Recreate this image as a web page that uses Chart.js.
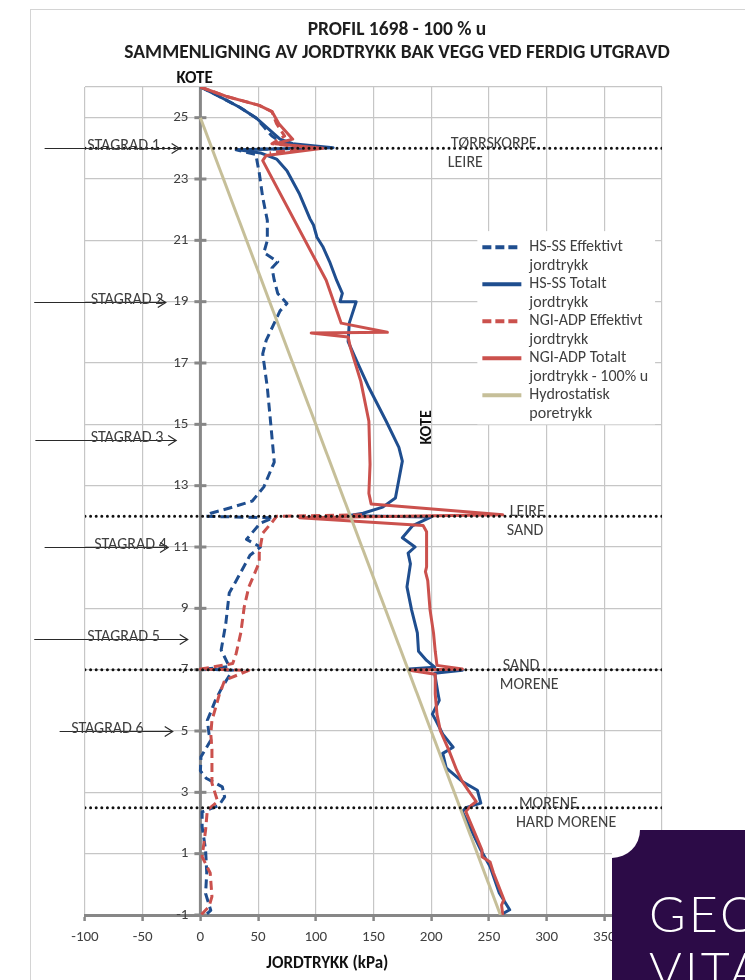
<!DOCTYPE html>
<html>
<head>
<meta charset="utf-8">
<script src="https://cdn.jsdelivr.net/npm/chart.js@4.4.1/dist/chart.umd.min.js"></script>
<style>
  html, body { margin: 0; padding: 0; background: #fff; }
  #wrap { position: relative; width: 745px; height: 980px; overflow: hidden; }
  #frame { position: absolute; left: 30px; top: 9px; width: 760px; height: 1000px;
           border-left: 1.5px solid #d4d4d4; border-top: 1.5px solid #d4d4d4; }
  canvas { position: absolute; left: 0; top: 0; }
  #logo { position: absolute; left: 612px; top: 830px; width: 133px; height: 150px;
          background: #2c0b47; overflow: hidden; }
  #logo .notch { position: absolute; left: -28px; top: -28px; width: 56px; height: 56px;
                 border-radius: 50%; background: #fff; }
  #logo .w { position: absolute; left: 37px; color: #fff; font: 300 50px Lato, sans-serif;
             line-height: 50px; white-space: nowrap; letter-spacing: 3px; }
</style>
</head>
<body>
<div id="wrap">
  <div id="frame"></div>
  <canvas id="c" width="745" height="980"></canvas>
  <div id="logo"><div class="notch"></div><div class="w" style="top:58px">GEO</div><div class="w" style="top:114px">VITA</div></div>
</div>
<script>
// ---- Jordtrykk (kPa) against kote (m) ----
const hsEffTrykk = [0, 16, 34, 48, 55, 62, 70, 100, 31, 48, 51, 54, 58, 58, 55, 67, 62, 64, 67, 75, 69, 57, 54, 58, 61, 64, 55, 45, 28, 9, 5, 63, 52, 40, 52, 43, 31, 25, 22, 18, 25, 4, 28, 19, 13, 9, 6, 7.5, 9, 0.5, 0, 5, 19, 21, 16, 1.5, 1.5, 4.5, 5.5, 4.5, 9, 4.5];
const hsEffKote  = [26, 25.7, 25.34, 25.0, 24.7, 24.4, 24.2, 24.02, 23.95, 23.8, 23.2, 22.4, 21.65, 21.0, 20.6, 20.3, 20.1, 19.7, 19.27, 18.94, 18.7, 17.74, 17.3, 16.2, 15.0, 13.77, 12.96, 12.5, 12.3, 12.1, 12.0, 11.95, 11.78, 11.25, 11.0, 10.73, 9.9, 9.5, 8.5, 7.64, 7.1, 7.02, 6.98, 6.44, 6.0, 5.62, 5.35, 4.9, 4.7, 4.16, 3.7, 3.46, 3.18, 2.85, 2.57, 2.36, 1.88, 1.12, 0.37, -0.3, -0.85, -1];

const hsTotTrykk = [0, 16, 34, 48, 57, 69, 80, 115, 33, 52, 66, 75, 86, 95, 98, 101, 106, 112, 118, 123, 121, 135, 129, 128, 135, 146, 161, 172, 175, 172, 169, 158, 141, 128, 200, 184, 175, 186, 180, 182, 179, 183, 188, 189, 196, 203, 181, 227, 203, 206, 207, 201, 204, 210, 219, 210, 213, 227, 240, 243, 230, 227, 243, 251, 259, 268, 260];
const hsTotKote  = [26, 25.7, 25.34, 25.0, 24.7, 24.3, 24.15, 24.02, 23.95, 23.85, 23.65, 23.27, 22.5, 21.7, 21.5, 21.1, 20.8, 20.3, 19.7, 19.27, 19.0, 19.0, 18.3, 17.7, 17.1, 16.2, 15.1, 14.25, 13.8, 13.2, 12.6, 12.3, 12.1, 12.02, 11.98, 11.7, 11.3, 11.0, 10.8, 10.45, 9.7, 8.95, 8.2, 7.6, 7.3, 7.08, 7.02, 6.98, 6.88, 6.2, 6.0, 5.55, 5.35, 4.9, 4.47, 4.27, 3.8, 3.35, 3.07, 2.65, 2.5, 2.37, 1.12, 0.58, -0.28, -0.83, -1];

const ngiEffTrykk = [0, 22, 51, 62, 66, 73, 62, 95, 60, null, 140, 66, 63, 54, 51, 51, 47, 42, 38, 35, 31, 28, 0, 42, 21, 16.5, 13.5, 10, 9, 10, 10, 10, 15, 6, 4.5, 1.5, 8.5, 10, 7.5, 0.5];
const ngiEffKote  = [26, 25.7, 25.4, 25.2, 24.8, 24.4, 24.15, 24.02, 23.85, null, 12.05, 12.0, 11.85, 11.45, 10.8, 10.5, 10.14, 9.7, 9.05, 8.2, 7.53, 7.2, 7.02, 6.98, 6.65, 6.2, 5.8, 5.35, 4.9, 4.4, 4.05, 3.3, 2.7, 2.42, 1.77, 0.9, 0.37, -0.4, -0.72, -1];

const ngiTotTrykk = [0, 22, 51, 62, 68, 80, 65, 106, 57, 54, 109, 122, 162, 96, 128, 130, 139, 146, 147, 146, 148, 262, 86, 193, 196, 196, 195, 197, 199, 202, 203.5, 205, 227, 181, 203.5, 203.5, 205, 208, 215, 222, 227, 232, 239, 234, 230, 244, 244, 251, 254, 263, 261, 262];
const ngiTotKote  = [26, 25.7, 25.4, 25.2, 24.8, 24.3, 24.15, 24.0, 23.77, 23.6, 19.7, 18.3, 18.0, 17.98, 17.85, 17.5, 16.4, 15.1, 13.7, 12.75, 12.4, 12.05, 11.95, 11.7, 11.5, 10.35, 10.2, 9.9, 8.95, 8.2, 7.6, 7.14, 7.02, 6.98, 6.85, 6.2, 5.55, 5.0, 4.4, 3.73, 3.35, 3.07, 2.7, 2.55, 2.37, 1.12, 0.9, 0.73, 0.37, -0.5, -0.68, -1];

const hydroTrykk = [0, 260];
const hydroKote  = [25, -1];

// Axis ranges and tick labels
const X_MIN = -100, X_MAX = 400, X_STEP = 50;
const Y_MIN = -1, Y_MAX = 26;
const yTickValues = [-1, 1, 3, 5, 7, 9, 11, 13, 15, 17, 19, 21, 23, 25];

// Layer boundaries (kote) with soil names above / below
const layerKote  = [24, 12, 7, 2.5];
const layerAbove = ['TØRRSKORPE', 'LEIRE', 'SAND', 'MORENE'];
const layerBelow = ['LEIRE', 'SAND', 'MORENE', 'HARD MORENE'];
const layerLabelAt = [217, 268, 262, 276];

// Anchor rows (stagrad)
const stagradNames = ['STAGRAD 1', 'STAGRAD 2', 'STAGRAD 3', 'STAGRAD 4', 'STAGRAD 5', 'STAGRAD 6'];
const stagradKote  = [24, 19, 14.5, 11, 8, 5];
const stagradFrom  = [-135, -144, -143, -135, -144, -122];
const stagradTo    = [-18, -30, -21, -28, -11, -24];
const stagradText  = [-98, -95, -95, -92, -98, -112];

const seriesNames = [
  ['HS-SS Effektivt', 'jordtrykk'],
  ['HS-SS Totalt', 'jordtrykk'],
  ['NGI-ADP Effektivt', 'jordtrykk'],
  ['NGI-ADP Totalt', 'jordtrykk - 100% u'],
  ['Hydrostatisk', 'poretrykk']
];

const BLUE = '#1F4E8F', RED = '#CB514D', TAN = '#C6BF99';
const AXIS = '#878787', GRID = '#c6c6c6', TXT = '#404040';
const FONT = "Carlito, Lato, 'Liberation Sans', sans-serif";

const pts = (xs, ys) => xs.map((v, i) => ({ x: v, y: ys[i] }));

function series(name, xs, ys, color, dashed) {
  return {
    label: name.join(' '),
    data: pts(xs, ys),
    borderColor: color,
    borderWidth: 3,
    borderDash: dashed ? [9, 5] : [],
    borderJoinStyle: 'round',
    showLine: true,
    pointRadius: 0,
    spanGaps: false
  };
}

const layerSets = layerKote.map(k => ({
  label: 'grense ' + k,
  data: [{ x: X_MIN, y: k }, { x: X_MAX, y: k }],
  borderColor: '#111',
  borderWidth: 3,
  borderDash: [0, 5.6],
  borderCapStyle: 'round',
  showLine: true,
  pointRadius: 0
}));

const hsEff  = series(seriesNames[0], hsEffTrykk, hsEffKote, BLUE, true);
const hsTot  = series(seriesNames[1], hsTotTrykk, hsTotKote, BLUE, false);
const ngiEff = series(seriesNames[2], ngiEffTrykk, ngiEffKote, RED, true);
const ngiTot = series(seriesNames[3], ngiTotTrykk, ngiTotKote, RED, false);
const hydro  = series(seriesNames[4], hydroTrykk, hydroKote, TAN, false);
const legendSets = [hsEff, hsTot, ngiEff, ngiTot, hydro];

// first dataset is painted last (on top)
const datasets = [...layerSets, hydro, ngiTot, ngiEff, hsTot, hsEff];

const decor = {
  id: 'decor',
  beforeDatasetsDraw(chart) {
    const { ctx, chartArea: a, scales: { x, y } } = chart;
    const x0 = x.getPixelForValue(0);
    ctx.save();
    ctx.strokeStyle = AXIS;
    ctx.lineWidth = 3;
    ctx.beginPath(); ctx.moveTo(x0, a.top); ctx.lineTo(x0, a.bottom); ctx.stroke();
    yTickValues.forEach(v => {
      const py = y.getPixelForValue(v);
      ctx.beginPath(); ctx.moveTo(x0 - 6, py); ctx.lineTo(x0 + 6, py); ctx.stroke();
    });
    ctx.fillStyle = TXT;
    ctx.font = `15px ${FONT}`;
    ctx.textAlign = 'right';
    ctx.textBaseline = 'middle';
    yTickValues.forEach(v => ctx.fillText(String(v), x0 - 12, y.getPixelForValue(v)));
    ctx.restore();
  },
  afterDatasetsDraw(chart) {
    const { ctx, chartArea: a, scales: { x, y } } = chart;
    ctx.save();

    // titles
    ctx.fillStyle = '#1e1e1e';
    ctx.textAlign = 'center';
    ctx.textBaseline = 'middle';
    ctx.font = `bold 19.5px ${FONT}`;
    ctx.fillText('PROFIL 1698 - 100 % u', 397, 30);
    ctx.fillText('SAMMENLIGNING AV JORDTRYKK BAK VEGG VED FERDIG UTGRAVD', 397, 53);

    // axis titles
    ctx.font = `bold 17px ${FONT}`;
    ctx.fillStyle = '#111';
    ctx.fillText('KOTE', x.getPixelForValue(-5), a.top - 8);
    ctx.fillText('JORDTRYKK (kPa)', x.getPixelForValue(110), a.bottom + 49);
    ctx.save();
    ctx.translate(x.getPixelForValue(196), y.getPixelForValue(14.9));
    ctx.rotate(-Math.PI / 2);
    ctx.font = `bold 16px ${FONT}`;
    ctx.fillText('KOTE', 0, 0);
    ctx.restore();

    // soil layer names
    ctx.fillStyle = TXT;
    ctx.font = `16px ${FONT}`;
    ctx.textAlign = 'left';
    layerKote.forEach((k, i) => {
      const py = y.getPixelForValue(k), px = x.getPixelForValue(layerLabelAt[i]);
      ctx.fillText(layerAbove[i], px, py - 4);
      ctx.fillText(layerBelow[i], px - 3, py + 15);
    });

    // anchor rows
    stagradKote.forEach((k, i) => {
      const py = Math.round(y.getPixelForValue(k)) + 0.5;
      const x1 = x.getPixelForValue(stagradFrom[i]);
      const x2 = x.getPixelForValue(stagradTo[i]);
      ctx.strokeStyle = '#2a2a2a';
      ctx.lineWidth = 1.2;
      ctx.beginPath(); ctx.moveTo(x1, py); ctx.lineTo(x2, py); ctx.stroke();
      ctx.beginPath(); ctx.moveTo(x2 - 8, py - 5); ctx.lineTo(x2, py); ctx.lineTo(x2 - 8, py + 5); ctx.stroke();
      ctx.fillStyle = TXT;
      ctx.textBaseline = 'alphabetic';
      ctx.fillText(stagradNames[i], x.getPixelForValue(stagradText[i]), py + 1);
    });

    // legend
    const lx = x.getPixelForValue(240), ly = y.getPixelForValue(21.3);
    const lw = x.getPixelForValue(394) - lx, lh = y.getPixelForValue(15.0) - ly;
    ctx.fillStyle = '#fff';
    ctx.fillRect(lx, ly, lw, lh);
    ctx.textBaseline = 'middle';
    ctx.font = `16px ${FONT}`;
    legendSets.forEach((ds, i) => {
      const ry = ly + 16 + i * 37;
      ctx.strokeStyle = ds.borderColor;
      ctx.lineWidth = 4;
      ctx.lineCap = 'butt';
      ctx.setLineDash(ds.borderDash.length ? [9, 4] : []);
      ctx.beginPath(); ctx.moveTo(lx + 5, ry); ctx.lineTo(lx + 44, ry); ctx.stroke();
      ctx.setLineDash([]);
      ctx.fillStyle = TXT;
      ctx.fillText(seriesNames[i][0], lx + 52, ry);
      ctx.fillText(seriesNames[i][1], lx + 52, ry + 19);
    });
    ctx.restore();
  }
};

new Chart(document.getElementById('c'), {
  type: 'scatter',
  data: { datasets },
  plugins: [decor],
  options: {
    responsive: false,
    animation: false,
    events: [],
    layout: { padding: { left: 85, right: 83, top: 87, bottom: 0 } },
    plugins: { legend: { display: false }, title: { display: false }, tooltip: { enabled: false } },
    scales: {
      x: {
        type: 'linear', position: 'bottom', min: X_MIN, max: X_MAX,
        ticks: { stepSize: X_STEP, color: TXT, padding: 7, font: { size: 15, family: FONT } },
        grid: { color: GRID, lineWidth: 1.2, tickLength: 6, tickColor: AXIS, tickWidth: 2.5 },
        border: { display: true, color: AXIS, width: 3 },
        afterFit: s => { s.height = 65; }
      },
      y: {
        type: 'linear', position: 'left', min: Y_MIN, max: Y_MAX,
        afterBuildTicks: s => { s.ticks = [...yTickValues.slice(1), Y_MAX].map(v => ({ value: v })); },
        ticks: { display: false },
        grid: { color: GRID, lineWidth: 1.2, drawTicks: false },
        border: { display: false },
        afterFit: s => { s.width = 0; }
      }
    }
  }
});
</script>
</body>
</html>
